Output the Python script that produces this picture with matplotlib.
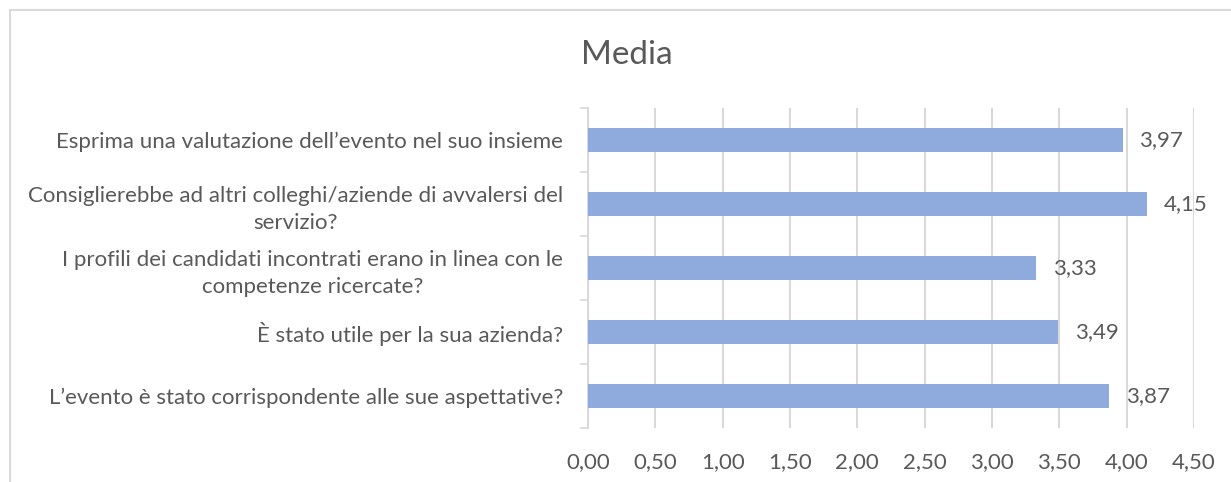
import matplotlib.pyplot as plt
import numpy as np
from matplotlib.patches import Rectangle

plt.rcParams['font.family'] = ['Lato', 'DejaVu Sans']

# categories listed top to bottom as in the chart
categories = [
    "Esprima una valutazione dell\u2019evento nel suo insieme",
    "Consiglierebbe ad altri colleghi/aziende di avvalersi del\nservizio?",
    "I profili dei candidati incontrati erano in linea con le\ncompetenze ricercate?",
    "\u00c8 stato utile per la sua azienda?",
    "L\u2019evento \u00e8 stato corrispondente alle sue aspettative?",
]
values = [3.97, 4.15, 3.33, 3.49, 3.87]
xticks = [0, 0.5, 1, 1.5, 2, 2.5, 3, 3.5, 4, 4.5]

text_col = '#595959'
grid_col = '#d9d9d9'
bar_col = '#8faadc'

fig = plt.figure(figsize=(12.31, 4.82), dpi=100)
ax = fig.add_axes([588 / 1231, 1 - 428 / 482, (1194 - 588) / 1231, (428 - 108) / 482])

n = len(categories)
y = np.arange(n)[::-1]  # first category on top
rects = ax.barh(y, values, height=0.36, color=bar_col, zorder=3)
ax.bar_label(rects, labels=[f"{v:.2f}".replace('.', ',') for v in values],
             padding=12, fontsize=16, color=text_col)

ax.set_xlim(0, 4.5)
ax.set_ylim(-0.5, n - 0.5)
ax.set_xticks(xticks, [f"{t:.2f}".replace('.', ',') for t in xticks])
ax.set_yticks(y, categories, multialignment='center', linespacing=1.45)
ax.set_yticks(np.arange(n + 1) - 0.5, minor=True)

ax.tick_params(axis='x', length=0, pad=17, labelsize=16, labelcolor=text_col)
ax.tick_params(axis='y', which='major', length=0, pad=18, labelsize=16, labelcolor=text_col)
ax.tick_params(axis='y', which='minor', length=6, width=1.2, color=grid_col)

ax.grid(axis='x', color=grid_col, linewidth=1.5, zorder=0)
for s in ['top', 'right', 'bottom']:
    ax.spines[s].set_visible(False)
ax.spines['left'].set_color(grid_col)
ax.spines['left'].set_linewidth(1.5)

fig.text(627 / 1231, 1 - 55 / 482, "Media", ha='center', va='center',
         fontsize=24, color=text_col)

fig.patches.append(Rectangle((9.5 / 1231, -0.1), 1.2, 1.1 - 9.5 / 482,
                             transform=fig.transFigure, fill=False,
                             edgecolor=grid_col, linewidth=1.5))

fig.savefig('out.png', dpi=100)
